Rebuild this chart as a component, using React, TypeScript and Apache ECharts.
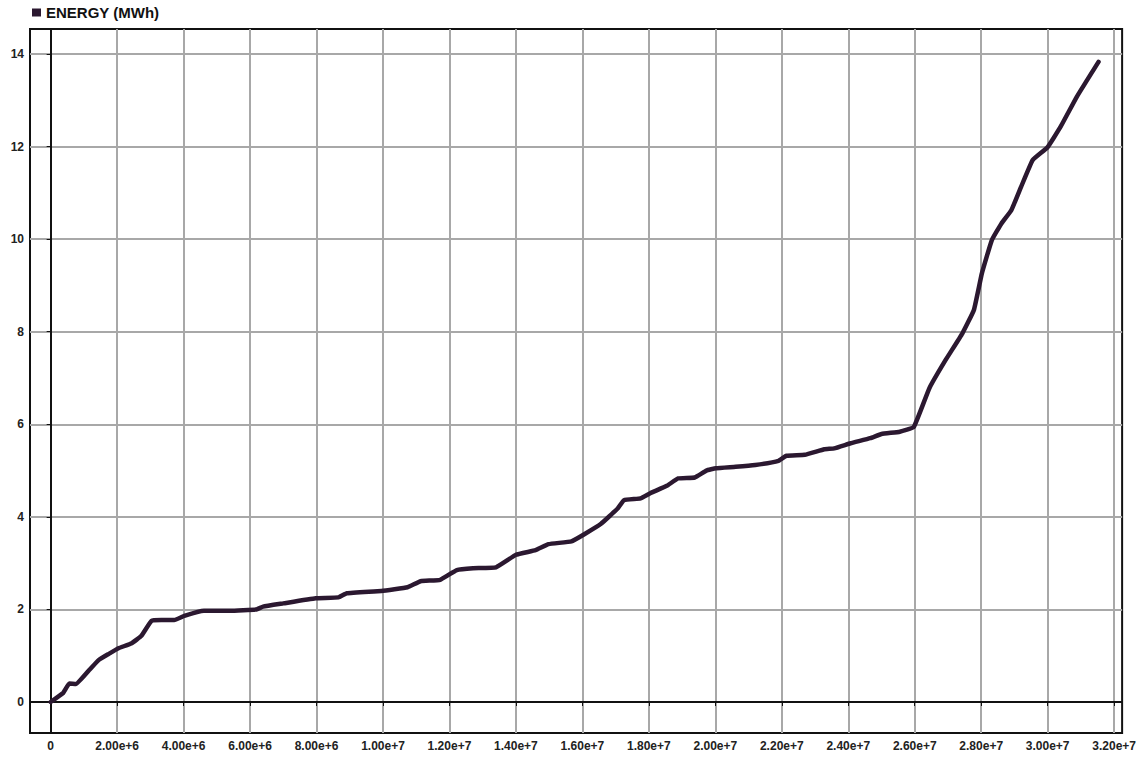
import React, { useEffect, useRef } from "react";
import * as echarts from "echarts";

const seriesName = "ENERGY (MWh)";

// x values in units (cumulative quantity), y values in MWh
const xValues = [
  0, 0.37e6, 0.56e6, 0.76e6, 1.16e6, 1.45e6, 1.75e6, 2.04e6, 2.44e6, 2.73e6,
  3.03e6, 3.33e6, 3.72e6, 4.02e6, 4.61e6, 5.4e6, 6.19e6, 6.39e6, 7.0e6, 7.97e6,
  8.66e6, 8.91e6, 9.95e6, 10.74e6, 11.13e6, 11.72e6, 12.22e6, 12.71e6, 13.4e6, 14.0e6,
  14.59e6, 14.98e6, 15.67e6, 16.07e6, 16.56e6, 17.06e6, 17.25e6, 17.75e6, 18.04e6, 18.54e6,
  18.88e6, 19.38e6, 19.73e6, 20.02e6, 20.61e6, 21.2e6, 21.9e6, 22.14e6, 22.69e6, 23.28e6,
  23.58e6, 24.07e6, 24.66e6, 25.0e6, 25.55e6, 25.97e6, 26.44e6, 26.93e6, 27.43e6, 27.78e6,
  28.02e6, 28.32e6, 28.61e6, 28.91e6, 29.2e6, 29.55e6, 29.99e6, 30.39e6, 30.88e6, 31.53e6,
];
const yValues = [
  0, 0.19, 0.4, 0.39, 0.69, 0.91, 1.04, 1.16, 1.27, 1.43,
  1.75, 1.77, 1.77, 1.86, 1.97, 1.97, 2.0, 2.06, 2.13, 2.24,
  2.26, 2.35, 2.4, 2.48, 2.61, 2.64, 2.85, 2.89, 2.91, 3.18,
  3.28, 3.41, 3.47, 3.63, 3.85, 4.18, 4.36, 4.4, 4.51, 4.67,
  4.83, 4.85, 5.0, 5.05, 5.08, 5.12, 5.21, 5.32, 5.34, 5.46,
  5.48, 5.59, 5.7, 5.79, 5.84, 5.94, 6.78, 7.39, 7.96, 8.47,
  9.26, 9.98, 10.34, 10.63, 11.13, 11.71, 11.98, 12.43, 13.08, 13.83,
];

const xTicks = [
  0, 2e6, 4e6, 6e6, 8e6, 1e7, 1.2e7, 1.4e7, 1.6e7, 1.8e7,
  2e7, 2.2e7, 2.4e7, 2.6e7, 2.8e7, 3e7, 3.2e7,
];
const yTicks = [0, 2, 4, 6, 8, 10, 12, 14];

const lineColor = "#2b1830";
const gridColor = "#a8a8a8";
const fontFamily = "'Liberation Sans', Arial, sans-serif";

export default function App() {
  const ref = useRef<HTMLDivElement>(null);
  useEffect(() => {
    document.body.style.margin = "0";
    if (!ref.current) return;
    const chart = echarts.init(ref.current, undefined, { renderer: "svg" });
    const data = xValues.map((x, i) => [x, yValues[i]]);
    chart.setOption({
      animation: false,
      backgroundColor: "#ffffff",
      legend: {
        data: [seriesName],
        left: 27,
        top: 0,
        icon: "rect",
        itemWidth: 9,
        itemHeight: 8,
        itemGap: 5,
        textStyle: { fontSize: 15, fontWeight: "bold", color: "#111", fontFamily },
      },
      grid: {
        left: 30,
        top: 29,
        right: 0,
        bottom: 24,
        show: true,
        borderColor: "#111",
        borderWidth: 2,
        containLabel: false,
      },
      xAxis: {
        type: "value",
        min: -0.622e6,
        max: 32.24e6,
        axisLine: { show: true, lineStyle: { color: "#111", width: 2 } },
        axisTick: { show: true, length: 4, customValues: xTicks, lineStyle: { color: "#111" } },
        axisLabel: {
          customValues: xTicks,
          margin: 7,
          fontSize: 12,
          fontWeight: "bold",
          color: "#222",
          fontFamily,
          formatter: (v: number) => (v === 0 ? "0" : v.toExponential(2)),
        },
        splitLine: { show: true, lineStyle: { color: gridColor, width: 2 } },
      },
      yAxis: {
        type: "value",
        min: -0.67,
        max: 14.54,
        axisLine: { show: true, lineStyle: { color: "#111", width: 2 } },
        axisTick: { show: true, length: 4, customValues: yTicks, lineStyle: { color: "#111" } },
        axisLabel: {
          customValues: yTicks,
          margin: 6,
          fontSize: 12,
          fontWeight: "bold",
          color: "#222",
          fontFamily,
        },
        splitLine: { show: true, lineStyle: { color: gridColor, width: 2 } },
      },
      series: [
        {
          name: seriesName,
          type: "line",
          data,
          showSymbol: false,
          symbol: "none",
          smooth: 0.1,
          itemStyle: { color: lineColor },
          lineStyle: { color: lineColor, width: 4.5, cap: "round", join: "round" },
        },
      ],
    });
    return () => chart.dispose();
  }, []);
  return <div ref={ref} style={{ width: 1139, height: 757 }} />;
}
